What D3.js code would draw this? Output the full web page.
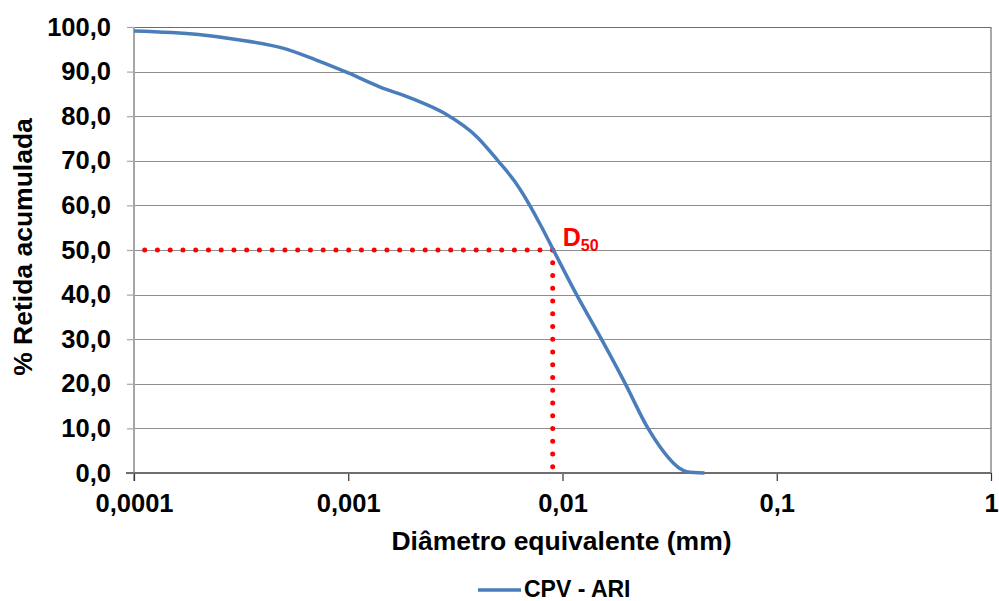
<!DOCTYPE html>
<meta charset="utf-8" />
<title>Retida acumulada</title>
<script src="https://cdn.jsdelivr.net/npm/d3@7"></script>

<style>
  body {
    margin: 0;
    padding: 0;
    background: #fff;
    font-family: Arial, "Liberation Sans", sans-serif;
  }

  .grid line {
    stroke: #8e8e8e;
    stroke-width: 1;
    shape-rendering: crispEdges;
  }

  .axis text {
    font-size: 25.5px;
    font-weight: bold;
    fill: #000;
    font-family: Arial, "Liberation Sans", sans-serif;
  }

  .titulo {
    font-size: 26.5px;
    font-weight: bold;
    fill: #000;
  }

  .curva {
    fill: none;
    stroke: #4a7ebb;
    stroke-width: 3.5;
    stroke-linejoin: round;
  }

  .d50 {
    fill: none;
    stroke: #ff0000;
    stroke-width: 5;
    stroke-linecap: round;
    stroke-dasharray: 0 12.75;
  }
</style>

<body>
  <div id="chart"></div>
</body>

<script>
  // diametro equivalente (mm) x % retida acumulada
  var diametros = [0.0001, 0.0002, 0.0003, 0.0005, 0.0007, 0.001, 0.0014, 0.002, 0.0028, 0.004, 0.005,
    0.006, 0.007, 0.008, 0.009, 0.0116, 0.0152, 0.0196, 0.025, 0.0285, 0.033, 0.0353, 0.038, 0.046];
  var retida = [99.1, 98.3, 97.2, 95.2, 92.7, 89.7, 86.6, 83.9, 80.7, 75.3, 70.0,
    65.3, 60.2, 55.1, 50.3, 40.1, 30.0, 20.1, 10.1, 5.9, 2.2, 1.0, 0.3, 0.0];

  var xTicks = [0.0001, 0.001, 0.01, 0.1, 1];
  var xTickLabels = ["0,0001", "0,001", "0,01", "0,1", "1"];
  var yTicks = [0, 10, 20, 30, 40, 50, 60, 70, 80, 90, 100];
  var yTickLabels = ["0,0", "10,0", "20,0", "30,0", "40,0", "50,0", "60,0", "70,0", "80,0", "90,0", "100,0"];

  var d50 = 0.009;
  var d50Retida = 50;
  var serieNome = "CPV - ARI";

  var pontos = diametros.map(function (d, i) { return { d: d, v: retida[i] }; });

  const margin = { top: 27, right: 8, bottom: 128, left: 134 },
    width = 999 - margin.left - margin.right,
    height = 601 - margin.top - margin.bottom;

  var x = d3.scaleLog().domain([0.0001, 1]).range([0, width]);
  var y = d3.scaleLinear().domain([0, 100]).range([height, 0]);

  const svg = d3
    .select("#chart")
    .append("svg")
    .attr("width", 999)
    .attr("height", 601)
    .append("g")
    .attr("transform", "translate(" + margin.left + "," + margin.top + ")");

  //Gridlines
  svg.append("g")
    .attr("class", "grid")
    .selectAll("line")
    .data(yTicks.slice(1))
    .enter()
    .append("line")
    .attr("x1", 0)
    .attr("x2", width)
    .attr("y1", function (d) { return Math.round(y(d)) + 0.5; })
    .attr("y2", function (d) { return Math.round(y(d)) + 0.5; })
    .style("stroke", function (d) { return d === 100 ? "#6e6e6e" : null; })
    .style("stroke-width", function (d) { return d === 100 ? 1.5 : null; });

  // right border of plot area
  svg.append("line")
    .attr("x1", width).attr("x2", width)
    .attr("y1", 0).attr("y2", height)
    .style("stroke", "#6e6e6e")
    .style("stroke-width", 1.2);

  //Y axis
  var yAxis = svg.append("g")
    .attr("class", "axis")
    .call(d3.axisLeft(y)
      .tickValues(yTicks)
      .tickSize(7)
      .tickPadding(16)
      .tickFormat(function (d, i) { return yTickLabels[i]; }));
  yAxis.select(".domain").remove();
  yAxis.selectAll(".tick line").style("stroke", "#a6a6a6").style("stroke-width", 1.2);
  yAxis.append("line")
    .attr("x1", 0).attr("x2", 0)
    .attr("y1", 0).attr("y2", height + 8)
    .style("stroke", "#a6a6a6")
    .style("stroke-width", 2);

  //X axis
  var xAxis = svg.append("g")
    .attr("class", "axis")
    .attr("transform", "translate(0," + height + ")")
    .call(d3.axisBottom(x)
      .tickValues(xTicks)
      .tickSize(8)
      .tickPadding(13)
      .tickFormat(function (d, i) { return xTickLabels[i]; }));
  xAxis.select(".domain").remove();
  xAxis.selectAll(".tick line").style("stroke", "#333").style("stroke-width", 1.2);
  xAxis.append("line")
    .attr("x1", -8).attr("x2", width)
    .attr("y1", 0).attr("y2", 0)
    .style("stroke", "#6e6e6e")
    .style("stroke-width", 2);
  xAxis.select(".tick:last-child text").attr("dx", -4);

  //D50 dotted guides
  svg.append("path")
    .attr("class", "d50")
    .attr("d", d3.line()([[x(d50), y(d50Retida)], [0, y(d50Retida)]]));
  svg.append("path")
    .attr("class", "d50")
    .attr("d", d3.line()([[x(d50), y(d50Retida)], [x(d50), y(0)]]));

  //Line
  var line = d3.line()
    .x(function (d) { return x(d.d); })
    .y(function (d) { return y(d.v); })
    .curve(d3.curveMonotoneX);

  svg.append("path")
    .datum(pontos)
    .attr("class", "curva")
    .attr("d", line);

  //D50 label
  var rotulo = svg.append("text")
    .attr("x", x(d50) + 10)
    .attr("y", y(d50Retida) - 4)
    .style("fill", "#ff0000")
    .style("font-weight", "bold")
    .style("font-size", "25px");
  rotulo.append("tspan").text("D");
  rotulo.append("tspan").attr("dy", 5).style("font-size", "16px").text("50");

  //Axis titles
  svg.append("text")
    .attr("class", "titulo")
    .attr("text-anchor", "middle")
    .attr("x", (390 + 733) / 2 - margin.left)
    .attr("y", 550 - margin.top)
    .text("Diâmetro equivalente (mm)");

  svg.append("text")
    .attr("class", "titulo")
    .attr("text-anchor", "middle")
    .attr("transform", "translate(" + (32 - margin.left) + "," + (247 - margin.top) + ") rotate(-90)")
    .text("% Retida acumulada");

  //Legend
  var legenda = svg.append("g")
    .attr("transform", "translate(" + (478 - margin.left) + "," + (590 - margin.top) + ")");
  legenda.append("line")
    .attr("x1", 0).attr("x2", 43)
    .attr("y1", 0).attr("y2", 0)
    .attr("class", "curva");
  legenda.append("text")
    .attr("x", 46)
    .attr("y", 7)
    .style("font-size", "23px")
    .style("font-weight", "bold")
    .text(serieNome);
</script>
